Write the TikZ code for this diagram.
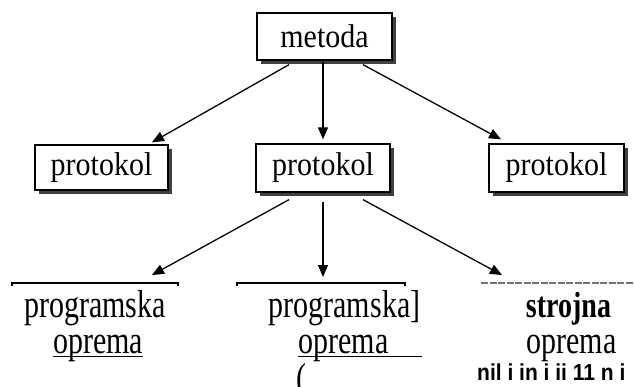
\documentclass[tikz,border=0pt]{standalone}
\usepackage{fontspec}
\usepackage{graphicx}
\setmainfont{Liberation Serif}
\newfontfamily\sansfam{Liberation Sans}
\newcommand{\tallA}[1]{\scalebox{1}[1.1]{#1}}
\newcommand{\tallB}[1]{\scalebox{1}[1.3]{#1}}
\usetikzlibrary{shadows,arrows.meta,calc}
\begin{document}
\begin{tikzpicture}[x=1pt,y=-1pt,
  boxnode/.style={draw=black,line width=1.3pt,fill=white,inner sep=0pt,
    drop shadow={shadow xshift=3.5pt,shadow yshift=-3.5pt,fill=black!75,opacity=1},
    font=\fontsize{30}{36}\selectfont},
  conn/.style={line width=1.3pt,-{Triangle[length=12pt,width=10pt]}},
  bigtext/.style={anchor=base,inner sep=0pt,font=\fontsize{30}{36}\selectfont},
  barline/.style={line width=1.8pt},
  uline/.style={line width=1.4pt}]
\useasboundingbox (0,0) rectangle (634,386);

% boxes
\node[boxnode,minimum width=135pt,minimum height=47pt] (m) at (324.5,36.5) {\tallA{metoda}};
\node[boxnode,minimum width=133pt,minimum height=45pt] (p1) at (101.5,167.5) {\tallA{protokol}};
\node[boxnode,minimum width=134pt,minimum height=48pt] (p2) at (323,168) {\tallA{protokol}};
\node[boxnode,minimum width=135pt,minimum height=48pt] (p3) at (556.5,168) {\tallA{protokol}};

% arrow tips on the bottom bars
\coordinate (b1) at (152,275);
\coordinate (b2) at (323,277);
\coordinate (b3) at (502,275);

% connectors top
\draw[conn] ($(m.south)+(-35.5,4)$) -- ($(p1.north)+(50.5,-2)$);
\draw[conn] ($(m.south)+(-1.5,1)$) -- ($(p2.north)+(0,-4)$);
\draw[conn] ($(m.south)+(38.5,4)$) -- ($(p3.north)+(-55.5,-4)$);

% connectors bottom
\draw[conn] ($(p2.south)+(-34,7)$) -- (b1);
\draw[conn] ($(p2.south)+(0,9)$) -- (b2);
\draw[conn] ($(p2.south)+(40,7)$) -- (b3);

% bars
\draw[barline] (12,286) -- (12,283) -- (178,283) -- (178,286);
\draw[barline] (237,286) -- (237,283) -- (405,283) -- (405,286);
\draw[line width=1.8pt,black!55,dash pattern=on 7pt off 1.5pt] (481,283) -- (634,283);

% bottom texts
\node[bigtext] (l1) at (95,317) {\tallB{programska}};
\node[bigtext] (l2) at (98,353) {\tallB{oprema}};
\draw[uline] ([yshift=-3.5pt]l2.base west) -- ([yshift=-3.5pt]l2.base east);

\node[bigtext] (c1) at (344.5,317) {\tallB{programska]}};
\node[bigtext] (c2) at (343.5,353) {\tallB{oprema}};
\draw[uline] ([yshift=-3.5pt]c2.base west) -- ([xshift=33pt,yshift=-3.5pt]c2.base east);
\node[bigtext,anchor=base west] (c3) at (296,390) {\tallB{(}};

\node[bigtext,font=\fontsize{28}{34}\selectfont\bfseries] (r1) at (568.5,317) {\tallB{strojna}};
\node[bigtext] (r2) at (571.5,353) {\tallB{oprema}};
\node[anchor=base west,inner sep=0pt,font=\sansfam\bfseries\fontsize{21}{25}\selectfont] (r3) at (477,380) {\scalebox{1}[1.1]{nil i in i ii 11 n i}};
\end{tikzpicture}
\end{document}
